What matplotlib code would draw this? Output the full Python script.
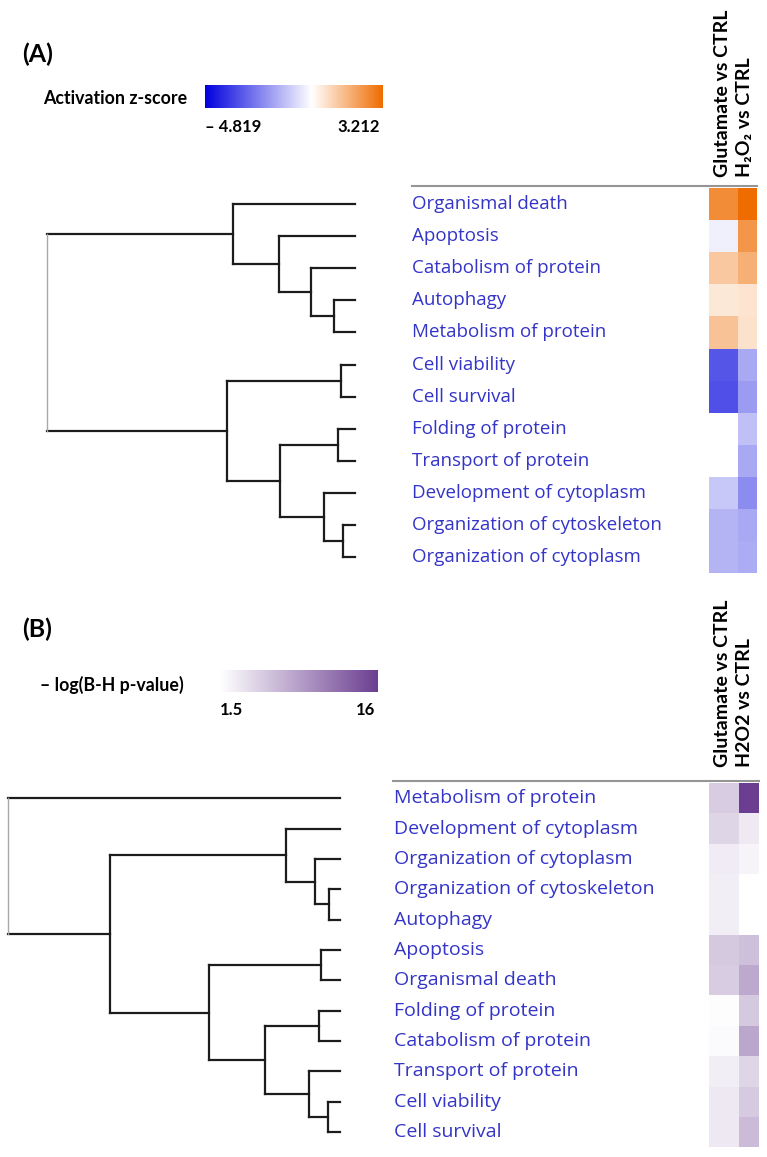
import numpy as np
import matplotlib
matplotlib.use("Agg")
import matplotlib.pyplot as plt
from matplotlib.colors import LinearSegmentedColormap, Normalize
from matplotlib.lines import Line2D
from matplotlib.transforms import blended_transform_factory

# ------------------------------------------------------------------ data
columns_a = ["Glutamate vs CTRL", "H\u2082O\u2082 vs CTRL"]
columns_b = ["Glutamate vs CTRL", "H2O2 vs CTRL"]

labels_a = ["Organismal death", "Apoptosis", "Catabolism of protein", "Autophagy",
            "Metabolism of protein", "Cell viability", "Cell survival",
            "Folding of protein", "Transport of protein", "Development of cytoplasm",
            "Organization of cytoskeleton", "Organization of cytoplasm"]
z_glutamate = [2.5, -0.28, 1.2, 0.5, 1.3, -3.2, -3.3, np.nan, np.nan, -1.04, -1.41, -1.41]
z_h2o2 = [3.2, 2.3, 1.73, 0.59, 0.65, -1.65, -1.88, -1.19, -1.65, -2.17, -1.65, -1.57]
z_min, z_max = -4.819, 3.212
z_ticklabels = ["\u2013 4.819", "3.212"]

# dendrogram merges (child, child, height); leaves are 0..11, merge k is 12+k
links_a = [(3, 4, 21), (2, 12, 44), (1, 13, 76), (0, 14, 122),
           (5, 6, 14), (7, 8, 17), (10, 11, 12), (9, 18, 31),
           (17, 19, 75), (16, 20, 128), (15, 21, 308)]

labels_b = ["Metabolism of protein", "Development of cytoplasm", "Organization of cytoplasm",
            "Organization of cytoskeleton", "Autophagy", "Apoptosis", "Organismal death",
            "Folding of protein", "Catabolism of protein", "Transport of protein",
            "Cell viability", "Cell survival"]
p_glutamate = [5.3, 4.7, 3.0, 2.85, 2.85, 5.6, 5.3, 1.7, 1.95, 2.85, 3.2, 3.2]
p_h2o2 = [16.0, 3.15, 2.3, 1.55, 1.55, 6.3, 8.0, 5.6, 8.2, 4.7, 5.5, 6.6]
p_min, p_max = 1.5, 16
p_ticklabels = ["1.5", "16"]

links_b = [(3, 4, 11), (2, 12, 25), (1, 13, 54),
           (5, 6, 19), (7, 8, 21), (10, 11, 12), (9, 17, 31),
           (16, 18, 75), (15, 19, 131), (14, 20, 230), (0, 21, 332)]

# ------------------------------------------------------------------ style
W, H = 767, 1157
fig = plt.figure(figsize=(W / 100, H / 100), dpi=100)
fig.patch.set_facecolor("white")

LABEL_FONT = ["Open Sans", "DejaVu Sans"]
BOLD_FONT = ["Lato", "DejaVu Sans"]
LABEL_COLOR = "#3434c8"
COL_EDGES = [0.0, 0.6, 1.0]


def rect(x0, y0, x1, y1):
    return [x0 / W, 1 - y1 / H, (x1 - x0) / W, (y1 - y0) / H]


def fx(x):
    return x / W


def fy(y):
    return 1 - y / H


def draw_dendro(ax, links, n):
    pos = {i: (i + 0.5, 0.0) for i in range(n)}
    for k, (a, b, h) in enumerate(links):
        ya, ha = pos[a]
        yb, hb = pos[b]
        root = k == len(links) - 1
        for yy, hh in ((ya, ha), (yb, hb)):
            ax.plot([hh, h], [yy, yy], color="#1c1c1c", lw=1.6,
                    solid_capstyle="projecting", clip_on=False)
        ax.plot([h, h], [ya, yb], color="#a8a8a8" if root else "#1c1c1c",
                lw=1.0 if root else 1.6, solid_capstyle="projecting", clip_on=False)
        pos[n + k] = ((ya + yb) / 2, h)


def panel(top, row_h, leaf_x, label_x, line_x0, heat_x1, labels, cols, values,
          cmap, norm, col_names, header_bottom, label_size):
    n = len(labels)
    bottom = top + n * row_h
    # heatmap
    axh = fig.add_axes(rect(709, top, heat_x1, bottom))
    data = np.array(values).T
    axh.pcolormesh(COL_EDGES, np.arange(n + 1), np.ma.masked_invalid(data),
                   cmap=cmap, norm=norm, shading="flat")
    axh.set_xlim(0, 1)
    axh.set_ylim(n, 0)
    axh.axis("off")
    # dendrogram
    axd = fig.add_axes(rect(0, top, leaf_x, bottom))
    draw_dendro(axd, cols, n)
    axd.set_xlim(leaf_x, 0)
    axd.set_ylim(n, 0)
    axd.axis("off")
    # labels
    tr = blended_transform_factory(fig.transFigure, axh.transData)
    for i, lab in enumerate(labels):
        axh.text(fx(label_x), i + 0.5, lab, transform=tr, ha="left", va="center",
                 color=LABEL_COLOR, fontsize=label_size, family=LABEL_FONT,
                 clip_on=False)
    # separator line
    fig.add_artist(Line2D([fx(line_x0), fx(heat_x1)], [fy(top - 2), fy(top - 2)],
                          color="#959595", lw=1.5))
    # headers
    for xc, name in zip((723, 745), col_names):
        fig.text(fx(xc), fy(header_bottom), name, rotation=90, ha="center",
                 va="bottom", fontsize=14, fontweight="bold", family=BOLD_FONT)


def colorbar(x0, y0, x1, y1, cmap, vmin, vmax, title, title_x, title_y,
             ticklabels, tick_y):
    cax = fig.add_axes(rect(x0, y0, x1, y1))
    sm = plt.cm.ScalarMappable(norm=Normalize(vmin, vmax), cmap=cmap)
    cb = fig.colorbar(sm, cax=cax, orientation="horizontal")
    cb.outline.set_visible(False)
    cax.set_xticks([])
    fig.text(fx(title_x), fy(title_y), title, ha="left", va="center",
             fontsize=12.8, fontweight="bold", family=BOLD_FONT)
    fig.text(fx(x0), fy(tick_y), ticklabels[0], ha="left", va="center",
             fontsize=12, fontweight="bold", family=BOLD_FONT)
    fig.text(fx(x1 - 3), fy(tick_y), ticklabels[1], ha="right", va="center",
             fontsize=12, fontweight="bold", family=BOLD_FONT)


# colormaps
zero_pos = (0 - z_min) / (z_max - z_min)
cmap_a = LinearSegmentedColormap.from_list(
    "zscore", [(0.0, "#0000dd"), (zero_pos, "#ffffff"), (1.0, "#ee6c00")])
cmap_a.set_bad("white")
cmap_b = LinearSegmentedColormap.from_list("pval", ["#ffffff", "#6b3e91"])
cmap_b.set_bad("white")

# ------------------------------------------------------------------ panel A
fig.text(fx(22), fy(54), "(A)", ha="left", va="center", fontsize=18,
         fontweight="bold", family=BOLD_FONT)
colorbar(205, 85, 383, 108, cmap_a, z_min, z_max, "Activation z-score", 43, 99,
         z_ticklabels, 127)
panel(188, 32.1, 355, 412, 412, 757, labels_a, links_a, [z_glutamate, z_h2o2],
      cmap_a, Normalize(z_min, z_max), columns_a, 177, 13.5)

# ------------------------------------------------------------------ panel B
fig.text(fx(22), fy(629), "(B)", ha="left", va="center", fontsize=18,
         fontweight="bold", family=BOLD_FONT)
colorbar(220, 670, 378, 692, cmap_b, p_min, p_max, "\u2013 log(B-H p-value)", 40, 685,
         p_ticklabels, 710)
panel(783, 30.35, 340, 394, 393, 759, labels_b, links_b, [p_glutamate, p_h2o2],
      cmap_b, Normalize(p_min, p_max), columns_b, 767, 14)

fig.savefig("out.png", dpi=100, facecolor="white")
